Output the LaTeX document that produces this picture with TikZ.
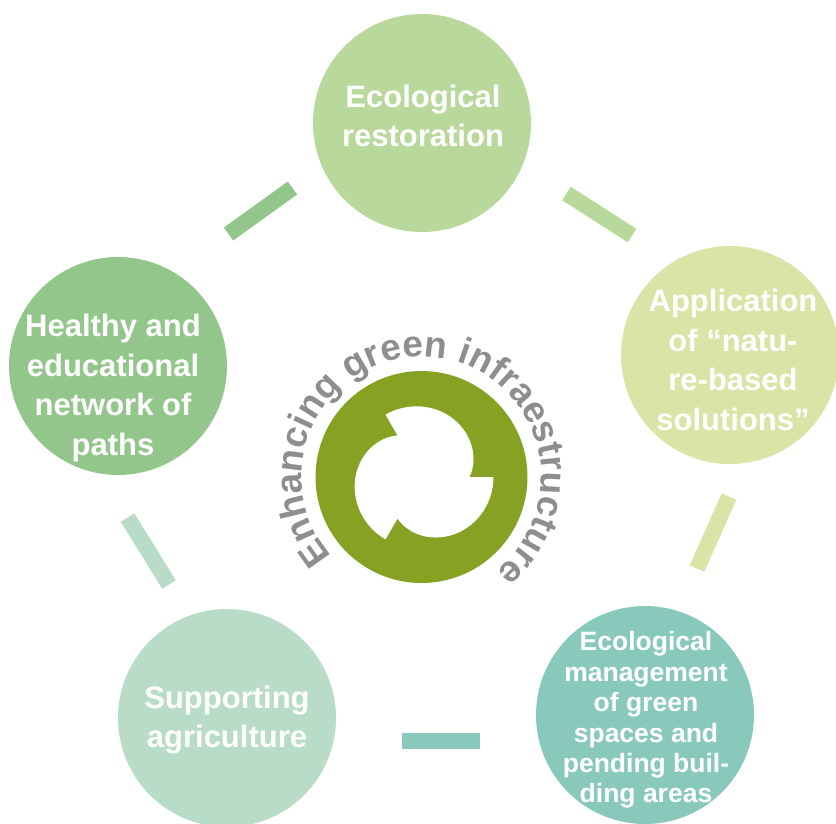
\documentclass[tikz,border=0pt]{standalone}
\usepackage{fontspec}
\setmainfont{Liberation Sans}
\newfontfamily\arcfont{Liberation Sans}
\usetikzlibrary{decorations.text}

\definecolor{ctop}{HTML}{B9D89B}
\definecolor{cright}{HTML}{D9E4A6}
\definecolor{cbr}{HTML}{89C9BC}
\definecolor{cbl}{HTML}{B8DCC8}
\definecolor{cleft}{HTML}{93C68B}
\definecolor{ringgreen}{HTML}{87A222}
\definecolor{arcgray}{HTML}{8E8E8E}

\tikzset{
  disc/.style={circle, minimum size=218pt, inner sep=0pt},
  lbl/.style={text=white, align=center, font=\bfseries\fontsize{31}{39.5}\selectfont},
  lblsmall/.style={text=white, align=center, font=\bfseries\fontsize{26.5}{30.4}\selectfont},
  bar/.style={line width=16pt, draw=#1},
}

\begin{document}
\begin{tikzpicture}[x=1pt,y=1pt]
	\useasboundingbox (0,0) rectangle (836,-823);
	% the five circles
	\node[disc, fill=ctop] (top) at (422,-123) {};
	\node[disc, fill=cright] (right) at (730,-355) {};
	\node[disc, fill=cbr] (botright) at (645,-715) {};
	\node[disc, fill=cbl] (botleft) at (227,-718) {};
	\node[disc, fill=cleft] (left) at (118,-366) {};
	% their texts
	\node[lbl] (ltop) at (423,-116) {Ecological\\restoration};
	\node[lbl] (lright) at (733,-360) {Application\\of “natu-\\re-based\\solutions”};
	\node[lblsmall] (lbotright) at (646,-720) {Ecological\\management\\of green\\spaces and\\pending buil-\\ding areas};
	\node[lbl] (lbotleft) at (227,-720) {Supporting\\agriculture};
	\node[lbl] (lleft) at (113,-388) {Healthy and\\educational\\network of\\paths};
	% bars between the circles
	\coordinate (b1s) at (228.5,-234);
	\coordinate (b1e) at (292.5,-188);
	\coordinate (b2s) at (566.5,-193.5);
	\coordinate (b2e) at (632,-235.5);
	\coordinate (b3s) at (729,-496.5);
	\coordinate (b3e) at (697,-568.5);
	\coordinate (b4s) at (480,-741);
	\coordinate (b4e) at (402,-741);
	\coordinate (b5s) at (169,-584.5);
	\coordinate (b5e) at (127.5,-517.5);
	\draw[bar=cleft] (b1s) -- (b1e);
	\draw[bar=ctop] (b2s) -- (b2e);
	\draw[bar=cright] (b3s) -- (b3e);
	\draw[bar=cbr] (b4s) -- (b4e);
	\draw[bar=cbl] (b5s) -- (b5e);
	% ring in the middle
	\coordinate (ring) at (421.5,-477);
	\fill[ringgreen] (ring) circle[radius=106];
	\fill[white, shift={(ring)}]
		plot[domain=0:120, samples=31, variable=\t] (\t:{48+24*(\t/120)*(2-\t/120)})
		-- plot[domain=120:240, samples=31, variable=\t] (\t:{48+24*((\t-120)/120)*(2-(\t-120)/120)})
		-- plot[domain=240:360, samples=31, variable=\t] (\t:{48+24*((\t-240)/120)*(2-(\t-240)/120)})
		-- cycle;
	\path[decorate, decoration={text along path, text align=center,
		text format delimiters={|}{|},
		text={|\arcfont\bfseries\fontsize{37}{37}\selectfont\color{arcgray}|Enhancing green infraestructure}}]
		(ring) ++(265:120) arc[start angle=265, end angle=-95, radius=120];
\end{tikzpicture}
\end{document}
